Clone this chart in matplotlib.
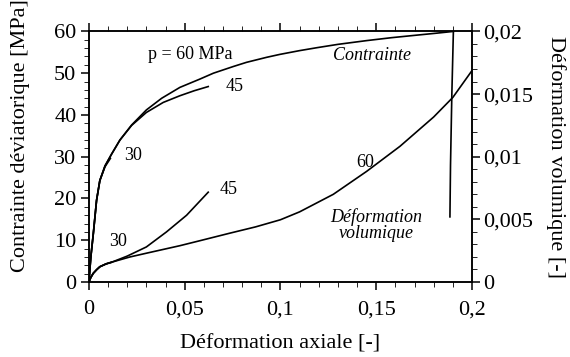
import matplotlib
matplotlib.use("Agg")
import matplotlib.pyplot as plt
from matplotlib.ticker import MultipleLocator, FixedLocator, FixedFormatter

# ====== DATA ======
# deviatoric stress vs axial strain (left axis, MPa)
stress60_x = [0, 0.001, 0.0023, 0.004, 0.0057, 0.0084, 0.0118, 0.0162, 0.0223,
              0.03, 0.038, 0.0475, 0.058, 0.065, 0.0754, 0.0823, 0.0928, 0.0997,
              0.11, 0.119, 0.13, 0.145, 0.158, 0.171, 0.182, 0.1903]
stress60_y = [0, 6.0, 11.6, 19.6, 24.3, 27.8, 30.6, 34.0, 37.6,
              41.2, 44.0, 46.6, 48.6, 50.0, 51.6, 52.6, 53.8, 54.5,
              55.4, 56.1, 56.9, 57.8, 58.5, 59.1, 59.6, 60]
# unloading at the end of the p = 60 MPa test
unload_x = [0.1903, 0.1895, 0.1888, 0.1885]
unload_y = [60, 45, 28, 15.6]

stress45_x = [0, 0.001, 0.0023, 0.004, 0.0057, 0.0084, 0.0118, 0.0162, 0.0223,
              0.03, 0.0388, 0.0475, 0.055, 0.0623]
stress45_y = [0, 6.0, 11.6, 19.6, 24.3, 27.8, 30.6, 34.0, 37.5,
              40.6, 43.0, 44.6, 45.8, 46.8]

stress30_x = [0, 0.001, 0.0023, 0.004, 0.0057, 0.0084, 0.0112]
stress30_y = [0, 6.0, 11.6, 19.6, 24.3, 27.6, 29.6]

# volumetric strain vs axial strain (right axis, [-])
vol60_x = [0, 0.001, 0.0023, 0.004, 0.0057, 0.009, 0.0127, 0.0214, 0.03, 0.0475,
           0.058, 0.0736, 0.087, 0.1, 0.11, 0.1276, 0.145, 0.1624, 0.18, 0.19, 0.2]
vol60_y = [0, 0.00037, 0.0007, 0.00098, 0.00122, 0.00145, 0.00162, 0.002, 0.0023,
           0.0029, 0.0033, 0.0039, 0.0044, 0.00497, 0.0056, 0.007, 0.00883,
           0.01083, 0.01317, 0.01473, 0.01687]

vol45_x = [0, 0.001, 0.0023, 0.004, 0.0057, 0.009, 0.0127, 0.02, 0.03, 0.0405,
           0.051, 0.0623]
vol45_y = [0, 0.00037, 0.0007, 0.00098, 0.00122, 0.00145, 0.00163, 0.00207,
           0.0028, 0.004, 0.00533, 0.00717]

vol30_x = [0, 0.001, 0.0023, 0.004, 0.0057, 0.009, 0.0118]
vol30_y = [0, 0.00037, 0.0007, 0.00098, 0.00122, 0.00145, 0.00157]

x_ticks = [0, 0.05, 0.1, 0.15, 0.2]
x_labels = ["0", "0,05", "0,1", "0,15", "0,2"]
left_ticks = [0, 10, 20, 30, 40, 50, 60]
right_ticks = [0, 0.005, 0.01, 0.015, 0.02]
right_labels = ["0", "0,005", "0,01", "0,015", "0,02"]

plt.rcParams["font.family"] = ["Liberation Serif", "DejaVu Serif"]

fig = plt.figure(figsize=(5.7, 3.57), dpi=100)
ax = fig.add_axes([0.156, 0.21, 0.672, 0.702])
ax2 = ax.twinx()

lw = 1.2
ax.plot(stress60_x, stress60_y, color="black", lw=lw)
ax.plot(unload_x, unload_y, color="black", lw=lw)
ax.plot(stress45_x, stress45_y, color="black", lw=lw)
ax.plot(stress30_x, stress30_y, color="black", lw=lw)

ax2.plot(vol60_x, vol60_y, color="black", lw=lw)
ax2.plot(vol45_x, vol45_y, color="black", lw=lw)
ax2.plot(vol30_x, vol30_y, color="black", lw=lw)

ax.set_xlim(0, 0.2)
ax.set_ylim(0, 60)
ax2.set_ylim(0, 0.02)

ax.xaxis.set_major_locator(FixedLocator(x_ticks))
ax.xaxis.set_major_formatter(FixedFormatter(x_labels))
ax.xaxis.set_minor_locator(MultipleLocator(0.01))
ax.yaxis.set_major_locator(FixedLocator(left_ticks))
ax.yaxis.set_minor_locator(MultipleLocator(2))
ax2.yaxis.set_major_locator(FixedLocator(right_ticks))
ax2.yaxis.set_major_formatter(FixedFormatter(right_labels))
ax2.yaxis.set_minor_locator(MultipleLocator(0.001))

ax.tick_params(axis="x", which="major", direction="out", length=6, width=1.1,
               top=True, labelsize=16, pad=7)
ax.tick_params(axis="x", which="minor", direction="out", length=3.5, top=True)
ax.tick_params(axis="y", which="major", direction="out", length=6, width=1.1,
               labelsize=16, pad=3)
ax.tick_params(axis="y", which="minor", direction="out", length=3.5)
ax2.tick_params(axis="y", which="major", direction="out", length=6, width=1.1,
                labelsize=16, pad=2)
ax2.tick_params(axis="y", which="minor", direction="out", length=3.5)

for a in (ax, ax2):
    for s in a.spines.values():
        s.set_linewidth(1.1)

ax.set_xlabel("Déformation axiale [-]", fontsize=16, labelpad=11)
ax.set_ylabel("Contrainte déviatorique [MPa]", fontsize=16)
ax.yaxis.set_label_coords(-0.155, 0.585)
ax2.set_ylabel("Déformation volumique [-]", fontsize=16, rotation=270, labelpad=24)

# curve labels
fs = 13
ax.text(0.053, 54.5, "p = 60 MPa", fontsize=fs, ha="center", va="center")
ax.text(0.148, 54.3, "Contrainte", fontsize=fs, style="italic", ha="center", va="center")
ax.text(0.150, 13.6, "Déformation\nvolumique", fontsize=fs, style="italic",
        ha="center", va="center", linespacing=0.95)
ax.text(0.076, 46.7, "45", fontsize=fs, ha="center", va="center")
ax.text(0.073, 22.1, "45", fontsize=fs, ha="center", va="center")
ax.text(0.144, 28.5, "60", fontsize=fs, ha="center", va="center")
ax.text(0.023, 30.3, "30", fontsize=fs, ha="center", va="center")
ax.text(0.015, 9.8, "30", fontsize=fs, ha="center", va="center")

fig.savefig("out.png", dpi=100)
